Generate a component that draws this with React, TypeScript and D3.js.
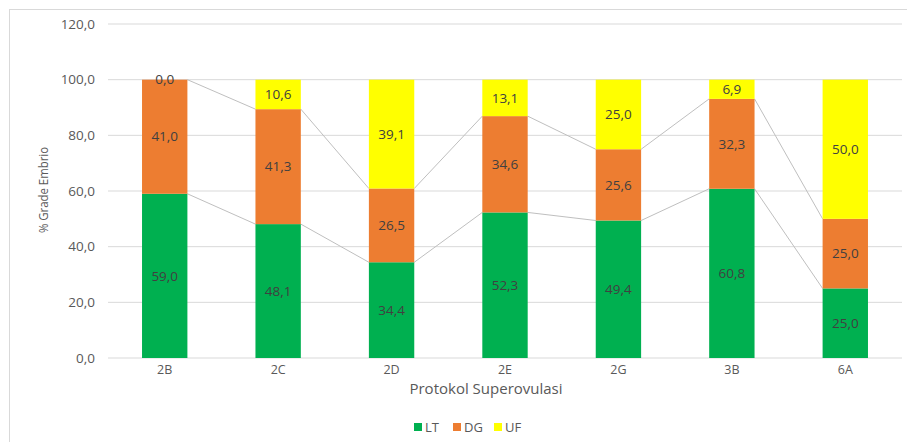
import React from "react";
import * as d3 from "d3";

const categories = ["2B", "2C", "2D", "2E", "2G", "3B", "6A"];
const seriesNames = ["LT", "DG", "UF"];
const LT = [59.0, 48.1, 34.4, 52.3, 49.4, 60.8, 25.0];
const DG = [41.0, 41.3, 26.5, 34.6, 25.6, 32.3, 25.0];
const UF = [0.0, 10.6, 39.1, 13.1, 25.0, 6.9, 50.0];
const yTicks = [0, 20, 40, 60, 80, 100, 120];
const colors = ["#00B050", "#ED7D31", "#FFFF00"];

const W = 907;
const H = 442;
const FONT = "'Open Sans', sans-serif";

export default function App() {
  const left = 108;
  const right = 902;
  const top = 24;
  const bottom = 358;
  const x = d3.scaleBand<string>().domain(categories).range([left, right]).paddingInner(0.6).paddingOuter(0.3);
  const y = d3.scaleLinear().domain([0, 120]).range([bottom, top]);
  const fmt = (v: number) => v.toFixed(1).replace(".", ",");

  const rows = categories.map((c, i) => ({ cat: c, LT: LT[i], DG: DG[i], UF: UF[i] }));
  const stack = d3.stack<any>().keys(seriesNames)(rows);
  const bw = x.bandwidth();

  const seriesLines: JSX.Element[] = [];
  [0, 1].forEach((si) => {
    for (let i = 0; i < categories.length - 1; i++) {
      const a = stack[si][i][1];
      const b = stack[si][i + 1][1];
      seriesLines.push(
        <line
          key={`sl-${si}-${i}`}
          x1={(x(categories[i]) as number) + bw}
          x2={x(categories[i + 1]) as number}
          y1={y(a)}
          y2={y(b)}
          stroke="#BFBFBF"
          strokeWidth={1}
        />
      );
    }
  });

  const legendItems = [
    { name: "LT", x: 414 },
    { name: "DG", x: 453 },
    { name: "UF", x: 494 },
  ];

  return (
    <div style={{ position: "absolute", left: 0, top: 0 }}>
      <svg width={W} height={H} style={{ display: "block", fontFamily: FONT }}>
        <rect x={0} y={0} width={W} height={H} fill="#fff" />
        <rect x={9.5} y={9.5} width={W + 10} height={H + 10} fill="none" stroke="#D9D9D9" strokeWidth={1} />
        {yTicks.map((t) => (
          <g key={t}>
            <line x1={left} x2={right} y1={y(t)} y2={y(t)} stroke="#D9D9D9" strokeWidth={1} />
            <text x={95} y={y(t)} dy="0.35em" textAnchor="end" fontSize={13.5} fill="#595959">
              {fmt(t)}
            </text>
          </g>
        ))}
        {seriesLines}
        {stack.map((s, si) => (
          <g key={seriesNames[si]}>
            {s.map((d, i) => (
              <rect
                key={i}
                x={x(categories[i]) as number}
                y={y(d[1])}
                width={bw}
                height={Math.max(0, y(d[0]) - y(d[1]))}
                fill={colors[si]}
              />
            ))}
          </g>
        ))}
        {stack.map((s, si) => (
          <g key={"lbl" + seriesNames[si]}>
            {s.map((d, i) => (
              <text
                key={i}
                x={(x(categories[i]) as number) + bw / 2}
                y={y((d[0] + d[1]) / 2)}
                dy="0.35em"
                textAnchor="middle"
                fontSize={13.5}
                fill="#404040"
              >
                {fmt(d[1] - d[0])}
              </text>
            ))}
          </g>
        ))}
        {categories.map((c) => (
          <text key={c} x={(x(c) as number) + bw / 2} y={370} dy="0.35em" textAnchor="middle" fontSize={12.5} fill="#595959">
            {c}
          </text>
        ))}
        <text x={486} y={389} dy="0.35em" textAnchor="middle" fontSize={15} fill="#595959">
          Protokol Superovulasi
        </text>
        <text
          transform={`translate(43,190) rotate(-90)`}
          textAnchor="middle"
          dy="0.35em"
          fontSize={13.5}
          fill="#595959"
          textLength={86}
          lengthAdjust="spacingAndGlyphs"
        >
          % Grade Embrio
        </text>
        {legendItems.map((it, i) => (
          <g key={it.name}>
            <rect x={it.x} y={423} width={8} height={8} fill={colors[i]} />
            <text x={it.x + 11} y={427} dy="0.35em" fontSize={13} fill="#595959">
              {it.name}
            </text>
          </g>
        ))}
      </svg>
    </div>
  );
}
